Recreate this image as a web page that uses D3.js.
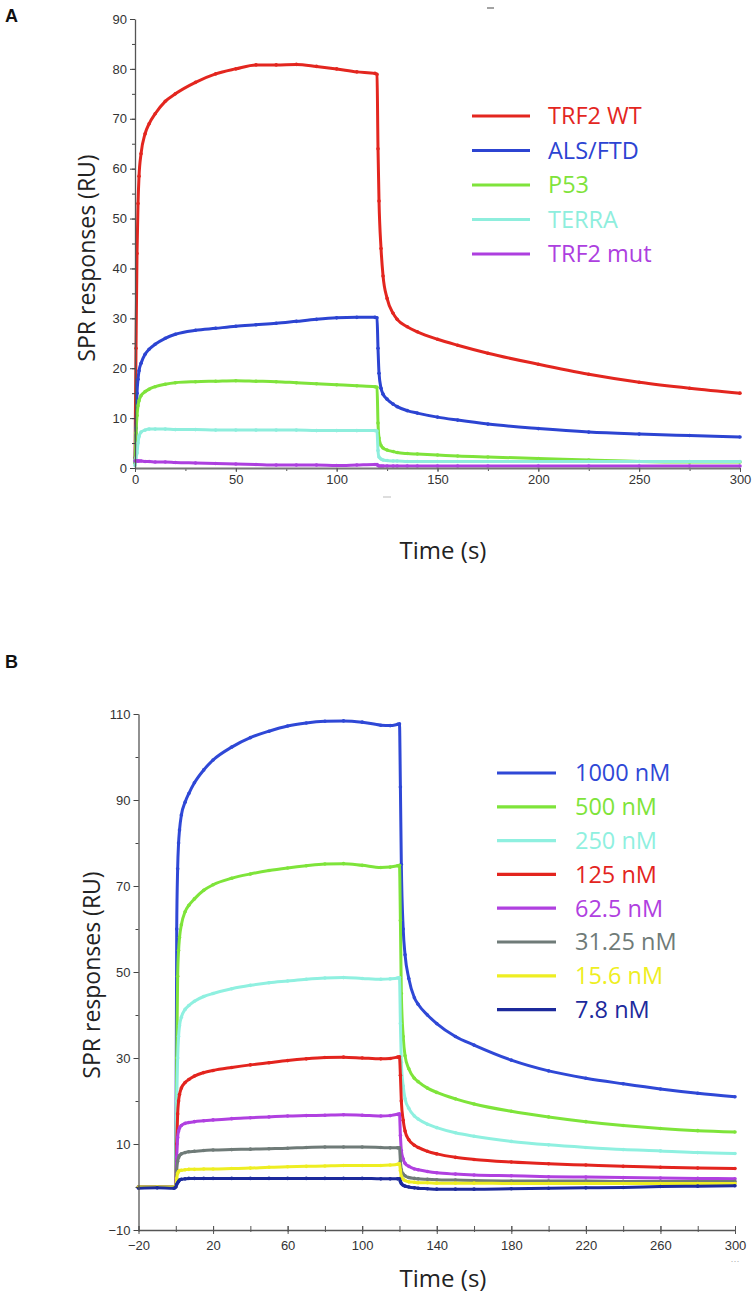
<!DOCTYPE html>
<html><head><meta charset="utf-8">
<script src="https://cdn.jsdelivr.net/npm/d3@7"></script>
<style>
html,body{margin:0;padding:0;background:#fff;}
svg{display:block;}
.tick text{font-family:"Liberation Sans",Arial,sans-serif;font-size:12px;fill:#333;}
</style></head>
<body>
<svg id="chart" width="756" height="1298"></svg>
<script>
// ---------- Panel A data ----------
const timeA = [0,0.5,1,1.5,2,3,5,7,10,15,20,30,40,50,60,70,80,90,100,110,119,120,120.5,121,122,123,125,128,130,135,140,150,160,175,200,225,250,275,300];
const seriesNamesA = ["TRF2 WT","ALS/FTD","P53","TERRA","TRF2 mut"];
const colorsA = ["#e3261f","#2c44d2","#7fe33b","#8eeedd","#ad3fdf"];
const trf2wt = [2,24,43,53,58.5,63,67,69,71,73.5,75,77.3,79,80,80.8,80.8,80.9,80.5,80,79.4,79.1,78.9,64,53.5,44,38.5,34,31,29.8,28.3,27.3,25.8,24.6,23,20.8,18.8,17.2,16,15];
const alsftd = [1,8,15,17.8,19.5,21,22.8,23.8,24.8,26,26.8,27.6,28,28.4,28.7,29,29.4,29.8,30.1,30.2,30.2,30.1,24,19,16,14.8,13.8,12.8,12.3,11.5,11,10.2,9.6,8.8,7.9,7.2,6.8,6.5,6.2];
const p53 = [1,7,10.5,12.5,13.5,14.5,15.3,15.8,16.3,16.8,17.1,17.3,17.4,17.5,17.4,17.3,17.1,16.9,16.7,16.5,16.3,16.2,9,6,4.5,4,3.6,3.3,3.1,2.9,2.8,2.6,2.4,2.2,1.9,1.6,1.3,1.2,1.2];
const terra = [0.5,2,3,5,6.3,7.2,7.6,7.8,7.8,7.8,7.7,7.7,7.6,7.6,7.6,7.6,7.6,7.5,7.5,7.5,7.5,7.4,3.5,2.2,1.8,1.6,1.5,1.4,1.4,1.3,1.3,1.3,1.3,1.3,1.3,1.3,1.3,1.3,1.3];
const trf2mut = [1.4,1.4,1.4,1.4,1.4,1.4,1.3,1.3,1.2,1.2,1.1,1.0,0.9,0.8,0.7,0.6,0.6,0.6,0.5,0.6,0.7,0.7,0.5,0.4,0.4,0.4,0.4,0.4,0.4,0.4,0.4,0.4,0.4,0.4,0.4,0.4,0.4,0.4,0.4];
const xTicksA = [0,50,100,150,200,250,300];
const yTicksA = [0,10,20,30,40,50,60,70,80,90];

// ---------- Panel B data ----------
const timeB = [-20,-10,-1,0,0.5,1,1.5,2,3,5,7,10,15,20,30,40,50,60,70,80,90,100,110,115,119,120,120.5,121,122,123,125,128,130,135,140,150,160,180,200,220,240,260,280,300];
const seriesNamesB = ["1000 nM","500 nM","250 nM","125 nM","62.5 nM","31.25 nM","15.6 nM","7.8 nM"];
const colorsB = ["#2f48d6","#7ee43a","#8ff0e0","#e3241e","#b040e0","#6f7b78","#eeee22","#1c2a9c"];
const c1000 = [0,0,0,0.5,60,74,80,83,86.5,89.5,91.5,94,97,99.3,102.3,104.5,106,107.2,107.9,108.3,108.4,108.1,107.4,107.3,107.6,107.7,93,75,60,54,48.5,44,42.5,40,38,35,33,29.5,27,25.3,24,22.8,21.8,21];
const c500 = [0,0,0,0.4,30,49,55,58,61,64,65.5,67,69,70.3,71.8,72.8,73.6,74.2,74.7,75.1,75.2,74.8,74.3,74.4,74.7,74.8,62,45,35,30.5,27.5,25.3,24.5,23,22,20.5,19.3,17.6,16.3,15.2,14.3,13.6,13.1,12.8];
const c250 = [0,0,0,0.3,20,30,35,37.5,39.5,41.3,42.2,43.2,44.3,45,46.1,46.9,47.5,47.9,48.3,48.6,48.7,48.5,48.3,48.4,48.6,48.7,38,29,23.5,20.5,18.3,16.5,15.8,14.6,13.8,12.6,11.8,10.6,9.8,9.2,8.7,8.4,8.0,7.8];
const c125 = [0,0,0,0.2,10,17,20,21.5,23,24.3,25,25.8,26.6,27.1,27.8,28.4,28.9,29.4,29.8,30.1,30.2,30.0,29.8,29.9,30.2,30.3,26,20,15.5,13,11,9.7,9.2,8.3,7.7,6.9,6.4,5.8,5.4,5.1,4.8,4.6,4.4,4.3];
const c62 = [0,0,0,0.2,7,11.5,13,13.7,14.3,14.8,15,15.2,15.4,15.6,15.9,16.1,16.3,16.5,16.6,16.7,16.8,16.7,16.5,16.6,16.9,17,12,8.5,6.5,5.5,4.8,4.2,4,3.6,3.3,3,2.8,2.6,2.4,2.3,2.2,2.1,2.0,1.9];
const c31 = [0,0,0,0.1,4,6,6.8,7.3,7.7,8,8.2,8.3,8.5,8.6,8.7,8.8,8.9,9.0,9.2,9.3,9.3,9.3,9.2,9.1,9.1,9.1,6,4,3,2.6,2.2,2,1.9,1.8,1.7,1.6,1.5,1.4,1.4,1.4,1.3,1.3,1.3,1.3];
const c15 = [0,0,0,0.1,2,3.2,3.6,3.8,3.9,4.0,4.1,4.1,4.2,4.2,4.3,4.4,4.6,4.7,4.8,4.9,5.0,5.0,5.0,5.1,5.3,5.4,3.8,2.5,1.8,1.5,1.2,1.1,1.0,1.0,0.9,0.9,0.9,0.8,0.8,0.8,0.8,0.8,0.8,0.8];
const c7 = [-0.3,-0.2,-0.3,0,0.6,1.0,1.3,1.6,1.8,1.9,2.0,2.0,2.0,2.0,2.0,2.0,2.0,2.0,2.0,2.0,2.0,2.0,1.9,1.9,1.9,1.9,1.3,0.8,0.4,0.2,0,-0.2,-0.3,-0.4,-0.5,-0.5,-0.5,-0.4,-0.3,-0.2,-0.1,0.1,0.2,0.3];
const xTicksB = [-20,20,60,100,140,180,220,260,300];
const yTicksB = [-10,10,30,50,70,90,110];

const svg = d3.select("#chart");
const titleFont = '"Open Sans","Noto Sans",sans-serif';

function panel(cfg){
  const g = svg.append("g");
  const x = d3.scaleLinear().domain(cfg.xDomain).range(cfg.xRange);
  const y = d3.scaleLinear().domain(cfg.yDomain).range(cfg.yRange);
  const line = d3.line().x(d=>x(d[0])).y(d=>y(d[1])).curve(d3.curveMonotoneX);
  cfg.series.forEach((vals,i)=>{
    const pts = cfg.time.map((t,j)=>[t,vals[j]]);
    g.append("path").attr("d",line(pts)).attr("fill","none")
      .attr("stroke",cfg.colors[i]).attr("stroke-width",3).attr("stroke-linejoin","round");
    g.selectAll(null).data(pts).enter().append("circle")
      .attr("cx",d=>x(d[0])).attr("cy",d=>y(d[1])).attr("r",1.8).attr("fill",cfg.colors[i]);
  });
  const xAxisMinor = d3.axisBottom(x).tickValues(cfg.xMinor).tickSize(cfg.xTickMinor).tickFormat("");
  const xAxis = d3.axisBottom(x).tickValues(cfg.xTicks).tickSize(cfg.xTickMajor).tickPadding(3).tickSizeOuter(0);
  const yAxisMinor = d3.axisLeft(y).tickValues(cfg.yMinor).tickSize(3).tickFormat("");
  const yAxis = d3.axisLeft(y).tickValues(cfg.yTicks).tickSize(5).tickPadding(3).tickSizeOuter(0);
  const gx = g.append("g").attr("transform",`translate(0,${cfg.yRange[0]})`);
  gx.append("g").call(xAxisMinor).call(s=>s.select(".domain").remove());
  gx.append("g").call(xAxis);
  gx.selectAll("line").attr("stroke","#555").attr("transform",`translate(0,${cfg.xTickShift})`);
  gx.selectAll(".domain").attr("stroke",cfg.xAxisColor).attr("stroke-width",cfg.xAxisWidth);
  gx.selectAll(".tick text").style("font-size",cfg.tickFont);
  const gy = g.append("g").attr("transform",`translate(${cfg.xRange[0]},0)`);
  gy.append("g").call(yAxisMinor).call(s=>s.select(".domain").remove());
  gy.append("g").call(yAxis);
  gy.selectAll("line").attr("stroke","#444");
  gy.selectAll(".domain").attr("stroke","#555").attr("stroke-width",1.3);
  gy.selectAll(".tick text").style("font-size",cfg.tickFont);
  g.append("text").attr("x",cfg.xTitle[0]).attr("y",cfg.xTitle[1]).attr("text-anchor","middle")
    .style("font-family",titleFont).style("font-size","24px").attr("fill","#222").text("Time (s)");
  g.append("text").attr("transform",`translate(${cfg.yTitle[0]},${cfg.yTitle[1]}) rotate(-90)`).attr("text-anchor","middle")
    .style("font-family",titleFont).style("font-size","23px").attr("fill","#222").text("SPR responses (RU)");
  g.append("text").attr("x",cfg.label[0]).attr("y",cfg.label[1])
    .style("font-family",'"Liberation Sans",Arial,sans-serif').style("font-weight","bold").style("font-size","18px").attr("fill","#111").text(cfg.labelText);
  const lg = g.append("g");
  cfg.names.forEach((n,i)=>{
    const yy = cfg.legend.y0 + i*cfg.legend.dy;
    lg.append("line").attr("x1",cfg.legend.x1).attr("x2",cfg.legend.x2).attr("y1",yy).attr("y2",yy)
      .attr("stroke",cfg.colors[i]).attr("stroke-width",3.2);
    lg.append("text").attr("x",cfg.legend.tx).attr("y",yy).attr("dy","0.36em")
      .style("font-family",titleFont).style("font-size","23.5px").attr("fill",cfg.colors[i]).text(n);
  });
}

panel({
  time: timeA, series:[trf2wt,alsftd,p53,terra,trf2mut], colors: colorsA, names: seriesNamesA,
  xDomain:[0,300], xRange:[135,740], yDomain:[0,90], yRange:[468,19],
  xTicks: xTicksA, xMinor: d3.range(0,301,25), yTicks: yTicksA, yMinor: d3.range(0,91,5),
  xTickMajor:4, xTickMinor:3, xTickShift:0, xAxisColor:"#777", xAxisWidth:2, tickFont:"13px",
  xTitle:[443,559], yTitle:[95,258], label:[5,22], labelText:"A",
  legend:{x1:472,x2:530,tx:548,y0:116,dy:34.5}
});

panel({
  time: timeB, series:[c1000,c500,c250,c125,c62,c31,c15,c7], colors: colorsB, names: seriesNamesB,
  xDomain:[-20,300], xRange:[138.5,735], yDomain:[-10,110], yRange:[1230,714],
  xTicks: xTicksB, xMinor: d3.range(-20,301,20), yTicks: yTicksB, yMinor: d3.range(-10,111,10),
  xTickMajor:8, xTickMinor:6, xTickShift:-4, xAxisColor:"#555", xAxisWidth:1.3, tickFont:"13px",
  xTitle:[443,1287], yTitle:[100,975], label:[5,668], labelText:"B",
  legend:{x1:497,x2:556,tx:575,y0:773,dy:33.8}
});

// small scan artefacts present in the original figure
svg.append("line").attr("x1",487).attr("x2",494).attr("y1",8).attr("y2",8).attr("stroke","#666").attr("stroke-width",1.2);
svg.append("line").attr("x1",383).attr("x2",391).attr("y1",497).attr("y2",497).attr("stroke","#bbb").attr("stroke-width",1);
svg.append("text").attr("x",735).attr("y",1264).attr("text-anchor","middle").style("font-family","Arial,sans-serif").style("font-size","9px").attr("fill","#aaa").text("···");
</script>
</body></html>
